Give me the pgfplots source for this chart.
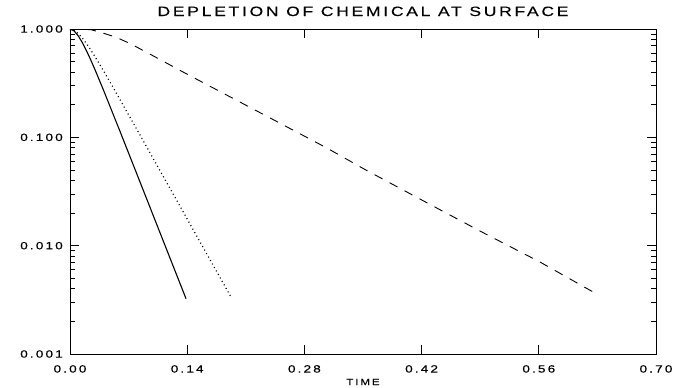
\documentclass[border=0pt]{standalone}
\usepackage{fontspec}
\newfontfamily\idlfont[FakeStretch=1.3,LetterSpace=20,FakeBold=0.3]{Liberation Sans}
\usepackage{pgfplots}
\pgfplotsset{compat=1.18}
\begin{document}
\begin{tikzpicture}
\begin{semilogyaxis}[
  scale only axis, width=586pt, height=325pt,
  xmin=0, xmax=0.7, ymin=0.001, ymax=1,
  xtick={0,0.14,0.28,0.42,0.56,0.70},
  xticklabels={0.00,0.14,0.28,0.42,0.56,0.70},
  ytick={0.001,0.01,0.1,1},
  yticklabels={0.001,0.010,0.100,1.000},
  minor ytick={0.002,0.003,0.004,0.005,0.006,0.007,0.008,0.009,0.02,0.03,0.04,0.05,0.06,0.07,0.08,0.09,0.2,0.3,0.4,0.5,0.6,0.7,0.8,0.9},
  tick align=inside,
  major tick length=9pt,
  minor tick length=5.5pt,
  every tick/.style={black, line width=0.8pt},
  axis line style={line width=0.9pt},
  ticklabel style={font=\idlfont\fontsize{10.5}{10.5}\selectfont},
  xticklabel style={inner sep=0pt, anchor=north, yshift=-11pt},
  yticklabel style={inner sep=0pt, anchor=east, xshift=-7pt},
  title={DEPLETION OF CHEMICAL AT SURFACE},
  title style={at={(0.5,1)}, anchor=base, yshift=7pt, inner sep=0pt, font=\idlfont\fontsize{13.5}{13.5}\selectfont},
  xlabel={TIME},
  xlabel style={at={(0.5,0)}, anchor=base, yshift=-31pt, inner sep=0pt, font=\idlfont\fontsize{9}{9}\selectfont},
]
% solid
\addplot[black, line width=1.1pt] coordinates {
(0,1.000) (0.005,0.958) (0.010,0.861) (0.015,0.743) (0.020,0.623) (0.025,0.514) (0.030,0.419) (0.040,0.273) (0.050,0.175) (0.060,0.1122) (0.080,0.0456) (0.100,0.0185) (0.120,0.0075) (0.1386,0.00324)
};
% dotted
\addplot[black, line width=1.2pt, dash pattern=on 1pt off 3pt] coordinates {
(0,1.000) (0.005,0.973) (0.010,0.906) (0.015,0.820) (0.020,0.728) (0.025,0.638) (0.030,0.554) (0.040,0.412) (0.050,0.303) (0.060,0.221) (0.080,0.1178) (0.100,0.0625) (0.130,0.0242) (0.160,0.00934) (0.1924,0.00335)
};
% dashed
\addplot[black, line width=0.9pt, dash pattern=on 9pt off 8pt] coordinates {
(0,1.000) (0.0119,0.996) (0.0251,0.985) (0.0350,0.940) (0.0550,0.840) (0.0729,0.727) (0.1075,0.523) (0.1374,0.392) (0.2151,0.189) (0.3070,0.0796) (0.3513,0.0510) (0.4182,0.0269) (0.4898,0.01364) (0.5615,0.00706) (0.6272,0.00365)
};
\end{semilogyaxis}
\pgfresetboundingbox
\path[use as bounding box] ([xshift=-70pt,yshift=-33pt]current axis.south west) rectangle ([xshift=29pt,yshift=29pt]current axis.north east);
\end{tikzpicture}
\end{document}
